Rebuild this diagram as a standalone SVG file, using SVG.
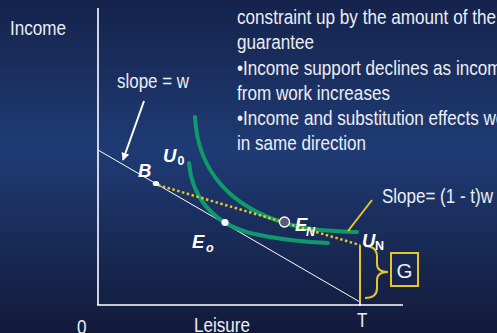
<svg xmlns="http://www.w3.org/2000/svg" width="497" height="333" viewBox="0 0 497 333">
<defs>
<linearGradient id="bg" x1="0" y1="0" x2="0" y2="1">
<stop offset="0" stop-color="#15234c"/>
<stop offset="0.45" stop-color="#1f3b74"/>
<stop offset="1" stop-color="#121a3a"/>
</linearGradient>
<marker id="arr" viewBox="0 0 10 10" refX="9" refY="5" markerWidth="4" markerHeight="4" orient="auto" markerUnits="strokeWidth">
<path d="M0,0 L10,5 L0,10 z" fill="#ffffff"/>
</marker>
<style>
.t{font-family:"Liberation Sans",Arial,sans-serif;font-size:20.5px;fill:#eceef4}
.lb{font-family:"Liberation Sans",Arial,sans-serif;font-weight:bold;font-style:italic;font-size:18.5px;fill:#ffffff}
.ls{font-family:"Liberation Sans",Arial,sans-serif;font-weight:bold;font-style:italic;font-size:12.5px;fill:#ffffff}
.sb{font-family:"Liberation Sans",Arial,sans-serif;font-weight:bold;font-size:12.5px;fill:#ffffff}
.ic{fill:none;stroke:#0f9a6b;stroke-width:4;stroke-linecap:round}
.yl{fill:none;stroke:#e6c42a;stroke-width:2}
</style>
</defs>
<rect width="497" height="333" fill="url(#bg)"/>

<g id="axes">
<line x1="98" y1="8" x2="98" y2="305" stroke="#ffffff" stroke-width="1.6"/>
<line x1="97" y1="305" x2="403" y2="305" stroke="#ffffff" stroke-width="1.6"/>
</g>

<g id="text-block">
<text class="t" x="237" y="24" textLength="259" lengthAdjust="spacingAndGlyphs">constraint up by the amount of the</text>
<text class="t" x="237" y="49" textLength="77" lengthAdjust="spacingAndGlyphs">guarantee</text>
<text class="t" x="237" y="75" textLength="274" lengthAdjust="spacingAndGlyphs">•Income support declines as income</text>
<text class="t" x="237" y="100" textLength="153" lengthAdjust="spacingAndGlyphs">from work increases</text>
<text class="t" x="237" y="125" textLength="282.6" lengthAdjust="spacingAndGlyphs">•Income and substitution effects work</text>
<text class="t" x="237" y="150" textLength="129" lengthAdjust="spacingAndGlyphs">in same direction</text>
</g>

<g id="axis-labels">
<text class="t" x="10" y="35" textLength="56" lengthAdjust="spacingAndGlyphs">Income</text>
<text class="t" x="194" y="332" textLength="56" lengthAdjust="spacingAndGlyphs">Leisure</text>
<text class="t" x="77" y="334" textLength="9.5" lengthAdjust="spacingAndGlyphs">0</text>
<text class="t" x="357" y="327" textLength="10.4" lengthAdjust="spacingAndGlyphs">T</text>
</g>

<g id="connectors">
<line id="budget-line" x1="98" y1="150" x2="360" y2="302" stroke="#ffffff" stroke-width="1"/>
<line x1="360" y1="300" x2="360" y2="306" stroke="#ffffff" stroke-width="1.5"/>
<line id="slope-arrow" x1="144" y1="101" x2="123" y2="160" stroke="#ffffff" stroke-width="2" marker-end="url(#arr)"/>
<path id="U0-curve" class="ic" d="M189,163 C192,195 210,222 250,233 C280,240 305,242 328,243"/>
<path id="UN-curve" class="ic" d="M195,117 C198,175 235,208 285,223 C310,231 335,231 357,232"/>
<line id="new-budget" x1="158" y1="185" x2="360" y2="245" stroke="#e6c42a" stroke-width="2.5" stroke-dasharray="2.5 2.5"/>
<line id="guarantee-line" class="yl" x1="360" y1="245" x2="360" y2="302"/>
<line id="slope-leader" class="yl" x1="372" y1="200" x2="348" y2="231"/>
<path id="brace" class="yl" d="M365,246 Q377,246 377,257 L377,264 Q377,272 388,272 Q377,272 377,280 L377,288 Q377,298 365,298"/>
</g>

<g id="node-B">
<ellipse cx="156" cy="183.5" rx="3.2" ry="2.6" fill="#ffffff"/>
<text class="lb" x="138" y="177">B</text>
</g>
<g id="node-E0">
<circle cx="225" cy="222.5" r="3.6" fill="#ffffff"/>
<text class="lb" x="192" y="248">E</text>
<text class="ls" x="206" y="252">o</text>
</g>
<g id="node-EN">
<circle cx="284.5" cy="222" r="5" fill="#5c5878" stroke="#ffffff" stroke-width="1.3"/>
<text class="lb" x="295" y="231">E</text>
<text class="ls" x="306" y="236">N</text>
</g>
<g id="label-U0">
<text class="lb" x="163" y="162">U</text>
<text class="sb" x="177.5" y="165">0</text>
</g>
<g id="label-UN">
<text class="lb" x="362" y="247">U</text>
<text class="sb" x="375" y="250">N</text>
</g>
<g id="label-slope-w">
<text class="t" x="117" y="88" textLength="72" lengthAdjust="spacingAndGlyphs">slope = w</text>
</g>
<g id="label-slope-new">
<text class="t" x="382" y="203" textLength="111" lengthAdjust="spacingAndGlyphs">Slope= (1 - t)w</text>
</g>
<g id="node-G">
<rect x="391" y="253" width="27" height="33" fill="none" stroke="#e6c42a" stroke-width="2"/>
<text class="t" x="404.5" y="278" text-anchor="middle">G</text>
</g>
</svg>
